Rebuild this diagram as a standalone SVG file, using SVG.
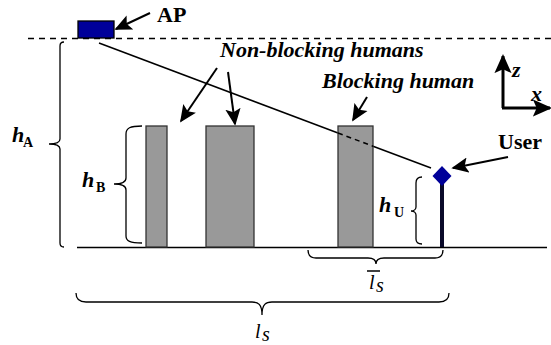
<svg xmlns="http://www.w3.org/2000/svg" width="551" height="345" viewBox="0 0 551 345">
<defs>
<marker id="ah2" viewBox="0 0 10 10" refX="9" refY="5" markerWidth="17" markerHeight="17" markerUnits="userSpaceOnUse" orient="auto">
<path d="M0,0.5 L10,5 L0,9.5 L2,5 Z" fill="#000"/>
</marker>
<marker id="ax" viewBox="0 0 10 10" refX="9" refY="5" markerWidth="19" markerHeight="19" markerUnits="userSpaceOnUse" orient="auto">
<path d="M0,0.5 L10,5 L0,9.5 L2,5 Z" fill="#000"/>
</marker>
</defs>
<style>
text{font-family:'Liberation Serif','Times New Roman',Times,'DejaVu Serif',serif}
.lbl{font-weight:bold;font-size:22px;fill:#000}
.ital{font-weight:bold;font-style:italic;font-size:22px;fill:#000}
.math{font-style:italic;font-size:20px;fill:#000}
.sub{font-weight:bold;font-size:14px;fill:#000}
.brace{fill:none;stroke:#000;stroke-width:1.3}
.human{fill:#999999;stroke:#333;stroke-width:1.3}
.arr{stroke:#000;stroke-width:2;fill:none}
</style>
<rect width="551" height="345" fill="#fff"/>
<g id="ceiling">
<line x1="28" y1="38.5" x2="551" y2="38.5" stroke="#000" stroke-width="1.5" stroke-dasharray="6,5"/>
</g>
<g id="ground">
<line x1="77" y1="247.5" x2="547" y2="247.5" stroke="#000" stroke-width="1.5"/>
</g>
<g id="connectors">
<line x1="99" y1="43" x2="338" y2="133" stroke="#000" stroke-width="1.5"/>
<line x1="373" y1="146.2" x2="431" y2="168" stroke="#000" stroke-width="1.5"/>
<line x1="150" y1="13" x2="116" y2="29" class="arr" marker-end="url(#ah2)"/>
<line x1="217" y1="68" x2="181" y2="121" class="arr" marker-end="url(#ah2)"/>
<line x1="228" y1="72" x2="235" y2="124" class="arr" marker-end="url(#ah2)"/>
<line x1="367" y1="97" x2="353" y2="120" class="arr" marker-end="url(#ah2)"/>
<line x1="508" y1="157" x2="453" y2="168" class="arr" marker-end="url(#ah2)"/>
</g>
<g id="human1"><rect class="human" x="146" y="126" width="21" height="121"/></g>
<g id="human2"><rect class="human" x="206" y="126" width="48" height="121"/></g>
<g id="human3"><rect class="human" x="338" y="126" width="35" height="121"/>
<line x1="338" y1="133" x2="373" y2="146.2" stroke="#000" stroke-width="1.5" stroke-dasharray="5,4"/></g>
<g id="ap">
<rect x="78" y="21" width="36" height="17" fill="#000099" stroke="#000" stroke-width="1.3"/>
<text class="lbl" x="157" y="22" font-family="Liberation Serif, serif">AP</text>
</g>
<g id="user">
<line x1="442" y1="176" x2="442" y2="247" stroke="#0a0a2a" stroke-width="4"/>
<path d="M442,166 L451.5,176 L442,186 L432.5,176 Z" fill="#000099"/>
<text class="lbl" x="498" y="149" font-family="Liberation Serif, serif">User</text>
</g>
<g id="labels">
<text class="ital" x="220" y="57" font-family="Liberation Serif, serif">Non-blocking humans</text>
<text class="ital" x="322" y="88" font-family="Liberation Serif, serif">Blocking human</text>
</g>
<g id="axes">
<line x1="503" y1="108" x2="503" y2="56" stroke="#000" stroke-width="3" marker-end="url(#ax)"/>
<line x1="502" y1="108" x2="550" y2="108" stroke="#000" stroke-width="3" marker-end="url(#ax)"/>
<text class="ital" x="512" y="77" font-family="Liberation Serif, serif">z</text>
<text class="ital" x="531" y="101" font-family="Liberation Serif, serif">x</text>
</g>
<g id="hA">
<path class="brace" d="M64,42 C61,42 60,43 60,46 L60,139 C60,142 58,144 49,144 C58,144 60,146 60,149 L60,243 C60,246 61,247 64,247"/>
<text class="ital" x="12" y="142" font-family="Liberation Serif, serif">h</text><text class="sub" x="23" y="147" font-family="Liberation Serif, serif">A</text>
</g>
<g id="hB">
<path class="brace" d="M142,126 C130,126 126,128 126,134 L126,178 C126,182 122,184 114,184 C122,184 126,186 126,190 L126,236 C126,241 130,243 142,243"/>
<text class="ital" x="82" y="187" font-family="Liberation Serif, serif">h</text><text class="sub" x="96" y="192" font-family="Liberation Serif, serif">B</text>
</g>
<g id="hU">
<path class="brace" d="M422,177 C418,177 416,179 416,183 L416,207 C416,209 414,211 411,211 C414,211 416,213 416,215 L416,239 C416,242 418,244 422,244"/>
<text class="ital" x="379" y="212" font-family="Liberation Serif, serif">h</text><text class="sub" x="394" y="217" font-family="Liberation Serif, serif">U</text>
</g>
<g id="ls_bar">
<path class="brace" d="M308,250 C308,255 310,258 316,258 L368,258 C373,258 376,260 376,264 C376,260 379,258 384,258 L435,258 C441,258 443,255 443,250"/>
<line x1="367" y1="271" x2="380" y2="271" stroke="#000" stroke-width="1.5"/>
<text class="math" x="369" y="289" font-family="Liberation Serif, serif">l</text><text class="math" x="376" y="292" font-size="14" font-family="Liberation Serif, serif">s</text>
</g>
<g id="ls">
<path class="brace" d="M76,293 C76,299 79,302 86,302 L252,302 C258,302 262,304 262,315 C262,304 266,302 272,302 L439,302 C446,302 449,299 449,293"/>
<text class="math" x="255" y="338" font-family="Liberation Serif, serif">l</text><text class="math" x="262" y="341" font-size="14" font-family="Liberation Serif, serif">s</text>
</g>
</svg>
